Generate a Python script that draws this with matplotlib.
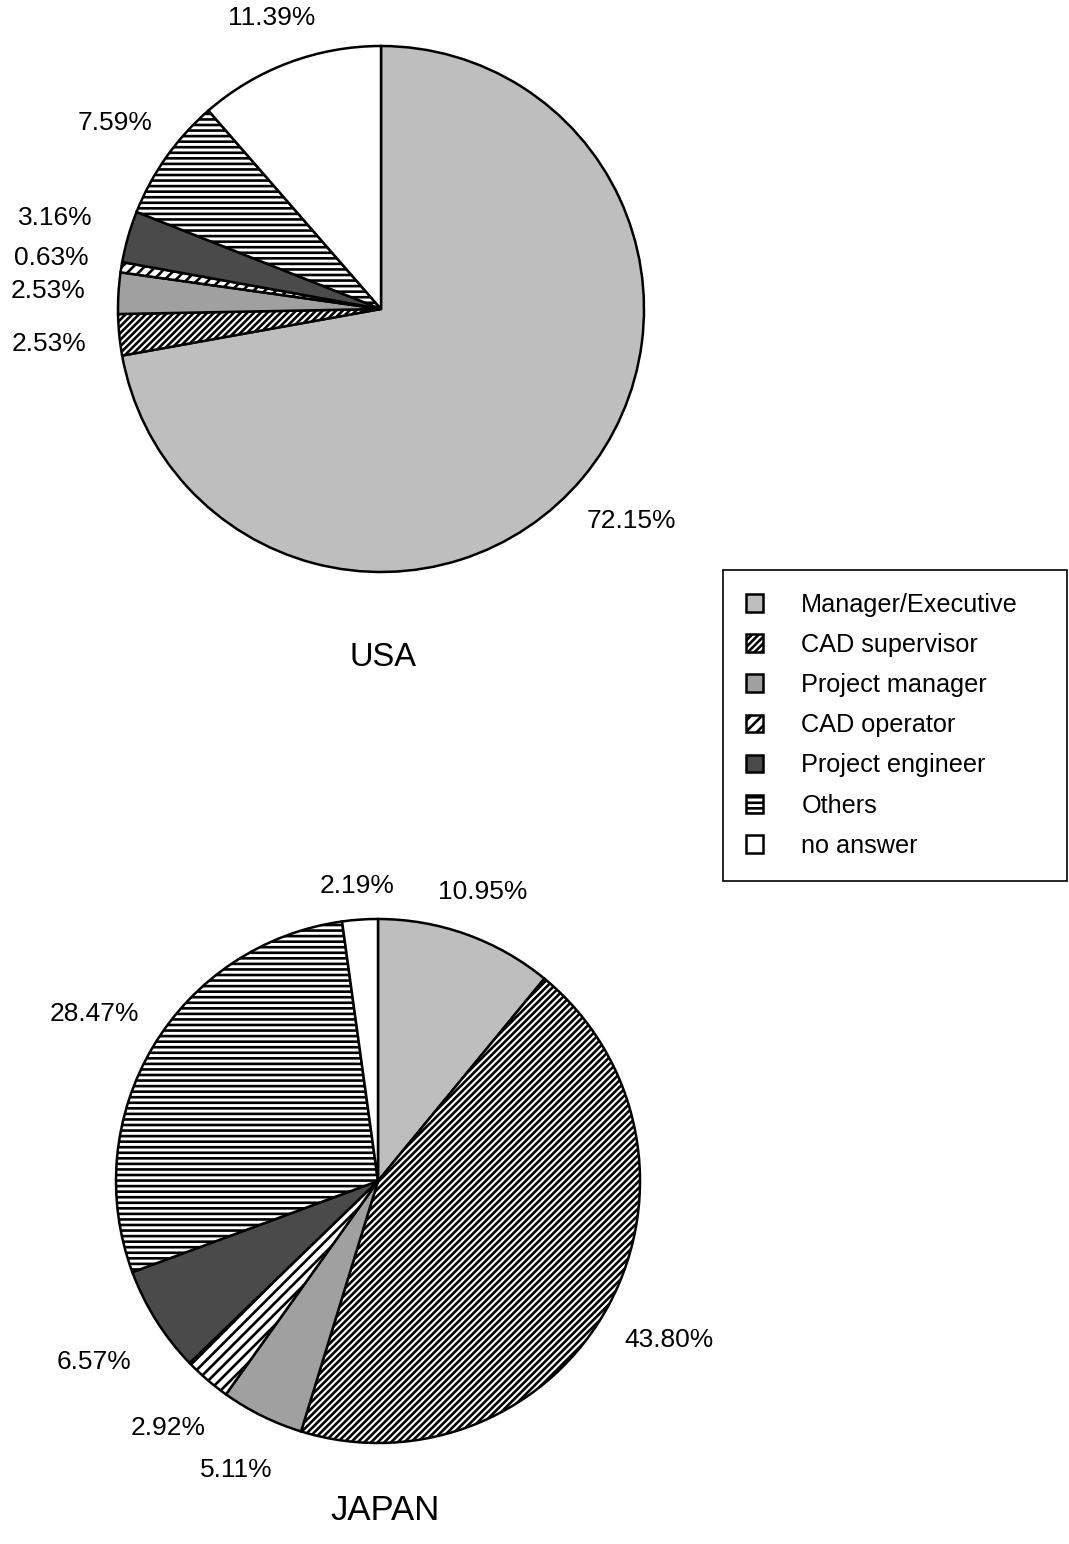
import matplotlib
matplotlib.use('Agg')
import matplotlib.pyplot as plt

# Survey data (percent)
categories = ['Manager/Executive', 'CAD supervisor', 'Project manager',
              'CAD operator', 'Project engineer', 'Others', 'no answer']
usa_values = [72.15, 2.53, 2.53, 0.63, 3.16, 7.59, 11.39]
japan_values = [10.95, 43.80, 5.11, 2.92, 6.57, 28.47, 2.19]
usa_title = 'USA'
japan_title = 'JAPAN'

# Styling, one per category (stipples approximated by grey)
face_colours = ['#bebebe', 'white', '#a0a0a0', 'white', '#4a4a4a', 'white', 'white']
hatches = [None, '/////', None, '///', None, '---', None]

# label distance from centre, in pie radii
usa_label_dist = [1.24, 1.27, 1.27, 1.27, 1.29, 1.24, 1.19]
japan_label_dist = [1.18, 1.26, 1.22, 1.23, 1.28, 1.26, 1.14]

W, H = 1069, 1544
plt.rcParams['font.family'] = ['Liberation Sans', 'DejaVu Sans']
plt.rcParams['hatch.linewidth'] = 1.9

fig = plt.figure(figsize=(W / 100, H / 100), dpi=100)
fig.patch.set_facecolor('white')
ax = fig.add_axes([0, 0, 1, 1])


def draw_pie(ax, values, centre, radius, label_dist):
    import numpy as np
    wedges, _ = ax.pie(values, colors=face_colours, hatch=hatches,
                       startangle=90, counterclock=False,
                       center=centre, radius=radius,
                       wedgeprops=dict(edgecolor='black', linewidth=1.8))
    for w, v, d in zip(wedges, values, label_dist):
        ang = np.deg2rad(0.5 * (w.theta1 + w.theta2))
        xt = centre[0] + d * radius * np.cos(ang)
        yt = centre[1] + d * radius * np.sin(ang)
        ax.text(xt, yt, '{:.2f}%'.format(v), ha='center', va='center_baseline',
                fontsize=19)
    return wedges


# pixel coordinates, y measured from bottom
usa_wedges = draw_pie(ax, usa_values, (381, H - 309), 263, usa_label_dist)
draw_pie(ax, japan_values, (378, H - 1181), 262, japan_label_dist)

ax.text(383, H - 657, usa_title, ha='center', va='center', fontsize=23.5)
ax.text(385, H - 1511, japan_title, ha='center', va='center', fontsize=25)

ax.set_xlim(0, W)
ax.set_ylim(0, H)
ax.set_aspect('equal')
ax.set_position([0, 0, 1, 1])
ax.axis('off')

# Legend box at the right
x0 = 723 / W
top = 1 - 570 / H
leg = fig.legend(usa_wedges, categories, loc='upper left',
                 bbox_to_anchor=(x0, top - 0.2, (1067 - 723) / W, 0.2),
                 mode='expand', borderaxespad=0, fontsize=18.2,
                 handlelength=0.7, handleheight=0.7, handletextpad=1.5,
                 labelspacing=0.64, borderpad=0.9, fancybox=False,
                 framealpha=1, edgecolor='black')
leg.get_frame().set_linewidth(1.2)

fig.savefig('out.png', dpi=100)
